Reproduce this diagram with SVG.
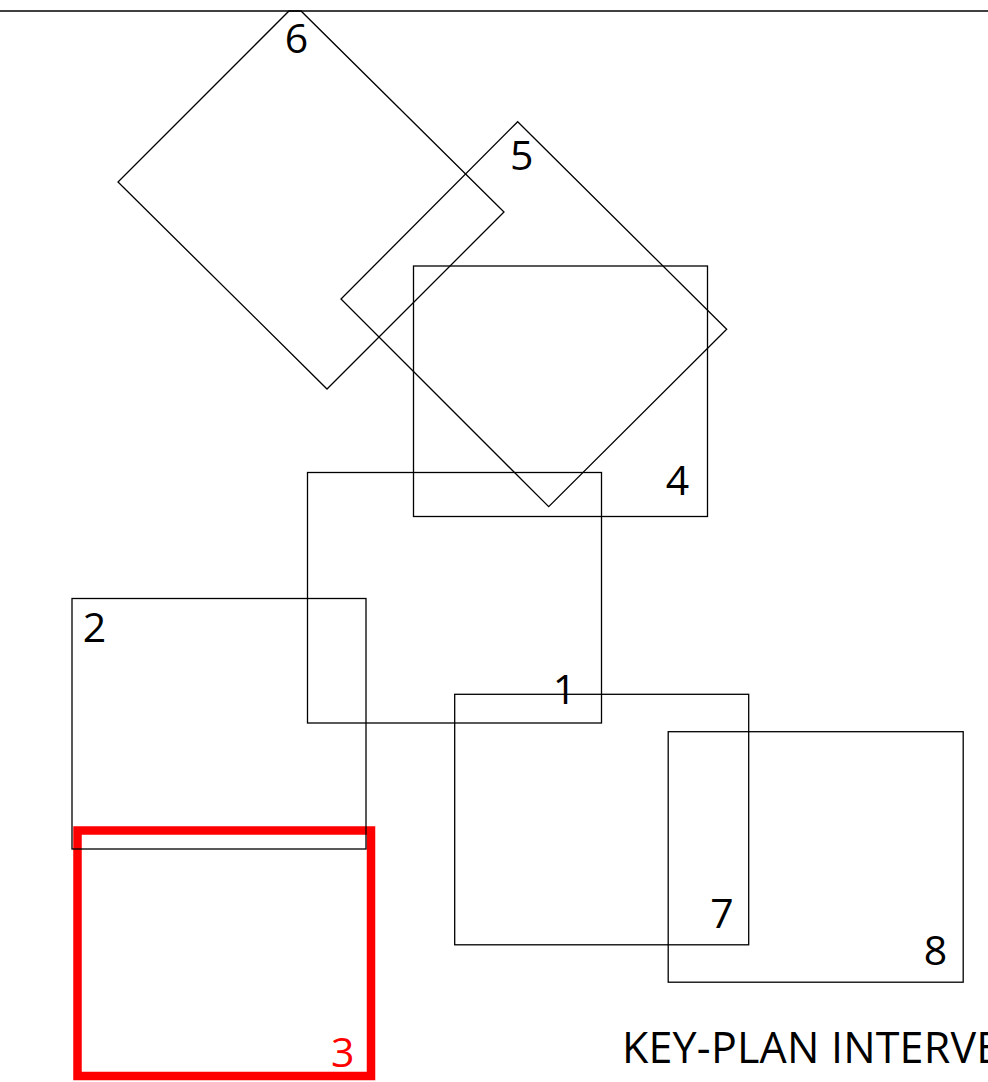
<svg xmlns="http://www.w3.org/2000/svg" width="988" height="1082" viewBox="0 0 988 1082">
<style>
.s{fill:none;stroke:#000;stroke-width:1.3}
.r{fill:none;stroke:#ff0000;stroke-width:8.5}
.l{font-family:"Open Sans","Noto Sans",sans-serif;font-size:41px;fill:#000;text-anchor:middle}
.red{fill:#ff0000}
.cap{font-family:"Open Sans","Noto Sans",sans-serif;font-size:43px;fill:#000;letter-spacing:0.2px}
</style>
<rect width="988" height="1082" fill="#fff"/>
<g id="n3">
<rect class="r" x="77.5" y="830.5" width="293.5" height="245.5"/>
<text class="l red" x="342.7" y="1067">3</text>
</g>
<g id="n6">
<polygon class="s" points="289,11 301,11 504,212 327,389 118,182"/>
<text class="l" x="296.5" y="53">6</text>
</g>
<g id="n5">
<polygon class="s" points="517.7,121.7 726.7,329.3 548.7,506.7 341,299"/>
<text class="l" x="521.7" y="169.5">5</text>
</g>
<g id="n4">
<rect class="s" x="413.5" y="266" width="294" height="250.5"/>
<text class="l" x="677.5" y="495">4</text>
</g>
<g id="n1">
<rect class="s" x="307.5" y="472.5" width="294" height="250.5"/>
<text class="l" x="564.5" y="704">1</text>
</g>
<g id="n2">
<rect class="s" x="72" y="598.5" width="294" height="250.5"/>
<text class="l" x="94.5" y="641.7">2</text>
</g>
<g id="n7">
<rect class="s" x="454.7" y="694.3" width="294" height="250.5"/>
<text class="l" x="722" y="927.5">7</text>
</g>
<g id="n8">
<rect class="s" x="668.2" y="731.7" width="295" height="250.5"/>
<text class="l" x="935.5" y="964.5">8</text>
</g>
<g id="frame">
<line class="s" x1="0" y1="11" x2="988" y2="11"/>
<text class="cap" x="622" y="1063.3">KEY-PLAN INTERVE</text>
</g>
<g id="connectors"></g>
</svg>
